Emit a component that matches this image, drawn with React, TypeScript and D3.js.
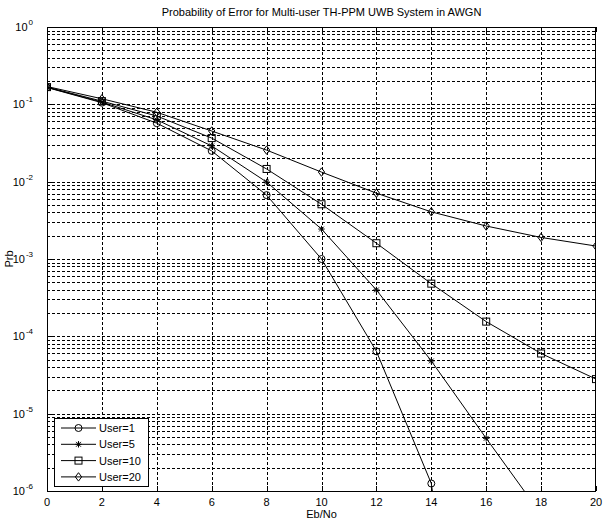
import React from 'react';
import * as d3 from 'd3';

const ebno = [0, 2, 4, 6, 8, 10, 12, 14, 16, 18, 20];
const user1 = [0.165, 0.105, 0.057, 0.025, 0.0067, 0.001, 6.4e-5, 1.25e-6, 1.3e-11];
const user5 = [0.166, 0.107, 0.063, 0.029, 0.0099, 0.00244, 3.98e-4, 4.8e-5, 4.8e-6, 5e-7];
const user10 = [0.167, 0.11, 0.0706, 0.0366, 0.0146, 0.0051, 1.6e-3, 4.8e-4, 1.55e-4, 6.0e-5, 2.8e-5];
const user20 = [0.17, 0.118, 0.079, 0.0452, 0.0256, 0.0133, 7.1e-3, 4.07e-3, 2.67e-3, 1.9e-3, 1.47e-3];
const seriesNames = ['User=1', 'User=5', 'User=10', 'User=20'];
const seriesMarkers = ['circle', 'star', 'square', 'diamond'];
const xTicks = [0, 2, 4, 6, 8, 10, 12, 14, 16, 18, 20];
const yExponents = [0, -1, -2, -3, -4, -5, -6];

const W = 603;
const H = 519;
const margin = { left: 47, right: 7, top: 27, bottom: 28 };
const FONT = '"Liberation Sans", Arial, Helvetica, sans-serif';

const x = d3.scaleLinear().domain([0, 20]).range([margin.left, W - margin.right]);
const y = d3.scaleLog().domain([1e-6, 1]).range([H - margin.bottom, margin.top]);

// draw a marker at (cx, cy)
const Marker = ({ kind, cx, cy }: { kind: string; cx: number; cy: number }) => {
  const s = 3.5;
  if (kind === 'circle') {
    return <circle cx={cx} cy={cy} r={s} fill="none" stroke="#000" strokeWidth={1} />;
  }
  if (kind === 'square') {
    return <rect x={cx - s} y={cy - s} width={2 * s} height={2 * s} fill="none" stroke="#000" strokeWidth={1} />;
  }
  if (kind === 'diamond') {
    const d = 4.2;
    return (
      <path
        d={`M${cx},${cy - d}L${cx + d * 0.75},${cy}L${cx},${cy + d}L${cx - d * 0.75},${cy}Z`}
        fill="none"
        stroke="#000"
        strokeWidth={1}
      />
    );
  }
  // star: + and x combined
  const a = 3.2;
  const b = 2.4;
  return (
    <path
      d={`M${cx - a},${cy}L${cx + a},${cy}M${cx},${cy - a}L${cx},${cy + a}M${cx - b},${cy - b}L${cx + b},${cy + b}M${cx - b},${cy + b}L${cx + b},${cy - b}`}
      stroke="#000"
      strokeWidth={1}
    />
  );
};

const App = () => {
  const series = [user1, user5, user10, user20];
  const line = d3
    .line<number>()
    .x((d, i) => x(ebno[i]))
    .y((d) => y(d));

  // minor grid values for log axis
  const minor: number[] = [];
  for (let e = -6; e < 0; e++) {
    for (let m = 2; m <= 9; m++) minor.push(m * Math.pow(10, e));
  }

  const x0 = margin.left;
  const x1 = W - margin.right;
  const y0 = margin.top;
  const y1 = H - margin.bottom;

  return (
    <div style={{ position: 'absolute', left: 0, top: 0 }}>
      <svg width={W} height={H} style={{ display: 'block', background: '#fff' }} fontFamily={FONT}>
        <defs>
          <clipPath id="plotclip">
            <rect x={x0} y={y0} width={x1 - x0} height={y1 - y0} />
          </clipPath>
        </defs>
        <rect x={0} y={0} width={W} height={H} fill="#fff" />

        {/* grid */}
        <g stroke="#000" strokeWidth={1} strokeDasharray="3,2" shapeRendering="crispEdges">
          {xTicks.slice(1, -1).map((t) => (
            <line key={'gx' + t} x1={Math.round(x(t)) + 0.5} x2={Math.round(x(t)) + 0.5} y1={y0} y2={y1} />
          ))}
          {yExponents.slice(1, -1).map((e) => (
            <line key={'gy' + e} x1={x0} x2={x1} y1={Math.round(y(Math.pow(10, e))) + 0.5} y2={Math.round(y(Math.pow(10, e))) + 0.5} />
          ))}
          {minor.map((v, i) => (
            <line key={'gm' + i} x1={x0} x2={x1} y1={Math.round(y(v)) + 0.5} y2={Math.round(y(v)) + 0.5} />
          ))}
        </g>

        {/* ticks */}
        <g stroke="#000" strokeWidth={1} shapeRendering="crispEdges">
          {xTicks.map((t) => (
            <g key={'tx' + t}>
              <line x1={Math.round(x(t)) + 0.5} x2={Math.round(x(t)) + 0.5} y1={y1} y2={y1 - 5} />
              <line x1={Math.round(x(t)) + 0.5} x2={Math.round(x(t)) + 0.5} y1={y0} y2={y0 + 5} />
            </g>
          ))}
          {yExponents.map((e) => (
            <g key={'ty' + e}>
              <line x1={x0} x2={x0 + 5} y1={Math.round(y(Math.pow(10, e))) + 0.5} y2={Math.round(y(Math.pow(10, e))) + 0.5} />
              <line x1={x1} x2={x1 - 5} y1={Math.round(y(Math.pow(10, e))) + 0.5} y2={Math.round(y(Math.pow(10, e))) + 0.5} />
            </g>
          ))}
          {minor.map((v, i) => (
            <g key={'tm' + i}>
              <line x1={x0} x2={x0 + 3} y1={Math.round(y(v)) + 0.5} y2={Math.round(y(v)) + 0.5} />
              <line x1={x1} x2={x1 - 3} y1={Math.round(y(v)) + 0.5} y2={Math.round(y(v)) + 0.5} />
            </g>
          ))}
        </g>

        {/* data */}
        <g clipPath="url(#plotclip)">
          {series.map((s, k) => (
            <g key={'s' + k}>
              <path d={line(s) || ''} fill="none" stroke="#000" strokeWidth={1} />
              {s.map((v, i) => (
                <Marker key={i} kind={seriesMarkers[k]} cx={x(ebno[i])} cy={y(v)} />
              ))}
            </g>
          ))}
        </g>

        {/* axes box */}
        <rect x={x0 + 0.5} y={y0 + 0.5} width={x1 - x0 - 1} height={y1 - y0} fill="none" stroke="#000" strokeWidth={1} shapeRendering="crispEdges" />

        {/* tick labels */}
        <g fontSize={11} fill="#000">
          {xTicks.map((t) => (
            <text key={'lx' + t} x={x(t)} y={y1 + 15} textAnchor="middle">
              {t}
            </text>
          ))}
          {yExponents.map((e) => (
            <text key={'ly' + e} x={x0 - 14} y={y(Math.pow(10, e)) + 4} textAnchor="end">
              10
              <tspan fontSize={8} dy={-6} dx={1}>
                {e}
              </tspan>
            </text>
          ))}
        </g>

        {/* title and labels */}
        <text x={(x0 + x1) / 2} y={16} textAnchor="middle" fontSize={11}>
          Probability of Error for Multi-user TH-PPM UWB System in AWGN
        </text>
        <text x={(x0 + x1) / 2} y={H - 1} textAnchor="middle" fontSize={11}>
          Eb/No
        </text>
        <text transform={`translate(13,${(y0 + y1) / 2}) rotate(-90)`} textAnchor="middle" fontSize={11}>
          Prb
        </text>

        {/* legend */}
        <g>
          <rect x={54.5} y={418.5} width={94} height={68} fill="#fff" stroke="#000" strokeWidth={1} shapeRendering="crispEdges" />
          {seriesNames.map((name, k) => {
            const ly = 428 + k * 16.3;
            return (
              <g key={'lg' + k}>
                <line x1={61} x2={96} y1={ly} y2={ly} stroke="#000" strokeWidth={1} />
                <Marker kind={seriesMarkers[k]} cx={78.5} cy={ly} />
                <text x={99} y={ly + 4} fontSize={11}>
                  {name}
                </text>
              </g>
            );
          })}
        </g>
      </svg>
    </div>
  );
};

export default App;
